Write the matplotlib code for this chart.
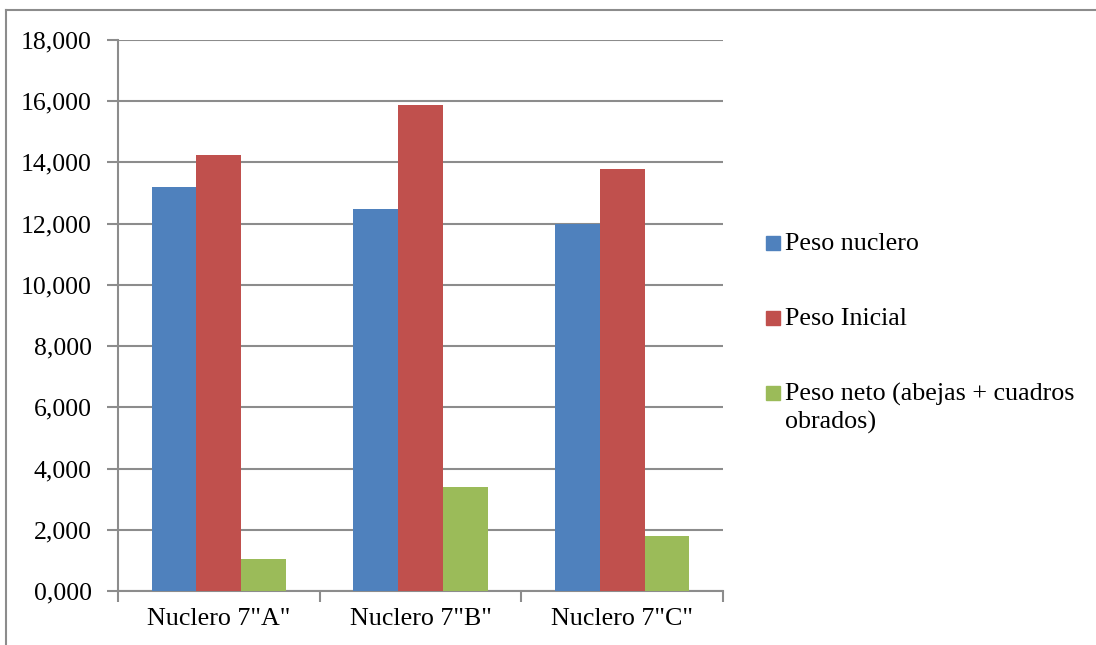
import matplotlib.pyplot as plt
from matplotlib.lines import Line2D
from matplotlib.patches import Rectangle
from matplotlib.ticker import FuncFormatter
import numpy as np

# Datos de los núcleos
nucleos = ['Nuclero 7"A"', 'Nuclero 7"B"', 'Nuclero 7"C"']
peso_nuclero = [13190, 12470, 11980]
peso_inicial = [14230, 15870, 13790]
peso_neto = [1030, 3390, 1800]

series = ["Peso nuclero", "Peso Inicial", "Peso neto (abejas + cuadros\nobrados)"]
colores = ["#4F81BD", "#C0504D", "#9BBB59"]
gris = "#8C8C8C"

plt.rcParams['font.family'] = ['Liberation Serif', 'DejaVu Serif']

fig = plt.figure(figsize=(10.96, 6.45), dpi=100)
ax = fig.add_axes([118 / 1096, 54 / 645, 605 / 1096, 551 / 645])

x = np.arange(len(nucleos))
ancho = 1 / 4.5  # ancho de separación 150%
for i, (vals, col) in enumerate(zip([peso_nuclero, peso_inicial, peso_neto], colores)):
    ax.bar(x + (i - 1) * ancho, vals, ancho, color=col, zorder=3)

ax.set_xlim(-0.5, 2.5)
ax.set_ylim(0, 18000)
ax.set_yticks(np.arange(0, 18001, 2000))
ax.yaxis.set_major_formatter(FuncFormatter(lambda v, p: f"{int(v) // 1000},000"))
ax.grid(axis='y', color=gris, linewidth=1.5, zorder=0)

# marcas del eje x en los límites de cada categoría
ax.set_xticks([-0.5, 0.5, 1.5, 2.5])
ax.set_xticklabels([])
ax.set_xticks(x, minor=True)
ax.set_xticklabels(nucleos, minor=True)
ax.tick_params(axis='x', which='minor', length=0, pad=12, labelsize=18.7)
ax.tick_params(axis='x', which='major', length=8, width=1.5, color=gris, direction='out')
ax.tick_params(axis='y', length=8, width=1.5, color=gris, pad=11, labelsize=18.5)

for s in ['top', 'right']:
    ax.spines[s].set_visible(False)
for s in ['left', 'bottom']:
    ax.spines[s].set_color(gris)
    ax.spines[s].set_linewidth(1.5)

# leyenda (cuadro alineado con la primera línea de cada etiqueta)
ly = [243, 318, 393]
for yy, txt, col in zip(ly, series, colores):
    fig.patches.append(Rectangle((766 / 1096, (645 - yy - 7) / 645), 14 / 1096, 14 / 645,
                                 transform=fig.transFigure, color=col))
    fig.text(785 / 1096, (645 - yy + 10) / 645, txt, fontsize=18.7, va='top',
             ha='left', linespacing=1.3)

# marco del gráfico
fig.add_artist(Line2D([6 / 1096, 1], [1 - 10 / 645] * 2, transform=fig.transFigure, color=gris, lw=1.5))
fig.add_artist(Line2D([6 / 1096] * 2, [0, 1 - 10 / 645], transform=fig.transFigure, color=gris, lw=1.5))

fig.savefig("out.png", dpi=100)
